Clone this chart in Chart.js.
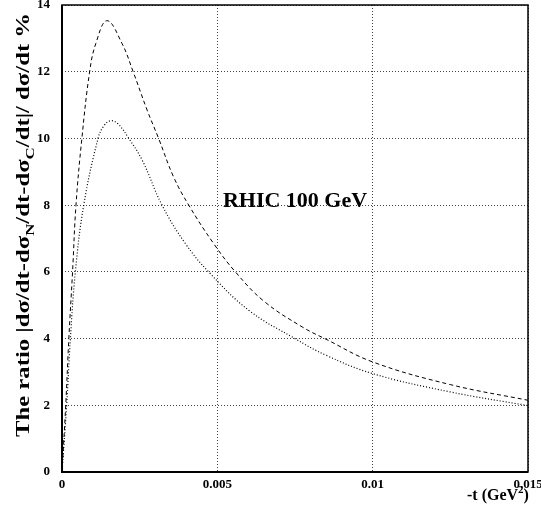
<!DOCTYPE html>
<html>
<head>
<meta charset="utf-8">
<script src="https://cdn.jsdelivr.net/npm/chart.js@4"></script>
<style>
    body { margin: 0; background: #fff; }
    canvas { display: block; }
</style>
</head>
<body>
<canvas id="chart" width="541" height="513"></canvas>
<script>
// -t values (GeV^2) and ratio values (%)
const tUpper = [0, 0.00012, 0.00022, 0.00034, 0.00045, 0.00064, 0.00089, 0.00109, 0.00145,
    0.00193, 0.00229, 0.00274, 0.00311, 0.00359, 0.00408, 0.00488, 0.00558, 0.0065, 0.00773,
    0.0085, 0.01, 0.0125, 0.015];
const ratioUpper = [0, 2.0, 4.0, 6.0, 8.0, 10.0, 12.0, 12.85, 13.53,
    12.85, 12.0, 10.85, 10.0, 8.85, 8.0, 6.85, 6.0, 5.12, 4.35,
    3.98, 3.3, 2.62, 2.15];

const tLower = [0, 0.00015, 0.00027, 0.00043, 0.0007, 0.00116, 0.00135, 0.00156, 0.0018, 0.00215,
    0.00258, 0.00322, 0.00397, 0.00472, 0.00601, 0.0075, 0.0085, 0.01, 0.0125, 0.015];
const ratioLower = [0, 2.0, 4.0, 6.0, 8.0, 10.0, 10.38, 10.53, 10.44, 10.0,
    9.35, 8.0, 6.85, 6.0, 4.85, 4.0, 3.5, 2.95, 2.4, 1.99];

const xTicks = [0, 0.005, 0.01, 0.015];
const xTickLabels = ["0", "0.005", "0.01", "0.015"];
const yTicks = [0, 2, 4, 6, 8, 10, 12, 14];

const annotationText = "RHIC 100 GeV";
const annotationPos = { x: 0.00518, y: 7.94 };

const SERIF = "'Liberation Serif', 'Times New Roman', serif";

function toPoints(xs, ys) {
    return xs.map((x, i) => ({ x: x, y: ys[i] }));
}

// y title with subscripts, x title with superscript, frame and label
const decorations = {
    id: "decorations",
    afterDraw(chart) {
        const { ctx, chartArea, scales } = chart;

        ctx.save();
        ctx.strokeStyle = "#000";
        ctx.lineWidth = 1.5;
        ctx.strokeRect(chartArea.left, chartArea.top,
            chartArea.right - chartArea.left, chartArea.bottom - chartArea.top);
        ctx.lineWidth = 2;
        ctx.beginPath();
        ctx.moveTo(chartArea.left, chartArea.top);
        ctx.lineTo(chartArea.left, chartArea.bottom);
        ctx.lineTo(chartArea.right, chartArea.bottom);
        ctx.stroke();
        ctx.restore();

        // annotation inside the plot
        ctx.save();
        ctx.fillStyle = "#000";
        ctx.font = "bold 22px " + SERIF;
        ctx.textBaseline = "alphabetic";
        ctx.fillText(annotationText,
            scales.x.getPixelForValue(annotationPos.x),
            scales.y.getPixelForValue(annotationPos.y));
        ctx.restore();

        // y axis title
        const parts = [
            { t: "The ratio |d\u03c3/dt-d\u03c3", sub: false },
            { t: "N", sub: true },
            { t: "/dt-d\u03c3", sub: false },
            { t: "C", sub: true },
            { t: "/dt|/ d\u03c3/dt %", sub: false }
        ];
        const mainFont = "bold 19px " + SERIF;
        const subFont = "bold 13px " + SERIF;
        ctx.save();
        let total = 0;
        parts.forEach(p => {
            ctx.font = p.sub ? subFont : mainFont;
            p.w = ctx.measureText(p.t).width;
            total += p.w;
        });
        const yStart = 437, yEnd = 13;
        const stretch = (yStart - yEnd) / total;
        ctx.translate(29, yStart);
        ctx.rotate(-Math.PI / 2);
        ctx.scale(stretch, 1);
        ctx.fillStyle = "#000";
        ctx.textBaseline = "alphabetic";
        let pos = 0;
        parts.forEach(p => {
            ctx.font = p.sub ? subFont : mainFont;
            ctx.fillText(p.t, pos, p.sub ? 5 : 0);
            pos += p.w;
        });
        ctx.restore();

        // x axis title
        ctx.save();
        ctx.fillStyle = "#000";
        ctx.textBaseline = "alphabetic";
        let x = 467;
        const base = 500;
        ctx.font = "bold 16px " + SERIF;
        ctx.fillText("-t (GeV", x, base);
        x += ctx.measureText("-t (GeV").width;
        ctx.font = "bold 11px " + SERIF;
        ctx.fillText("2", x, base - 7);
        x += ctx.measureText("2").width;
        ctx.font = "bold 16px " + SERIF;
        ctx.fillText(")", x, base);
        ctx.restore();
    }
};

const chart = new Chart(document.getElementById("chart"), {
    type: "line",
    data: {
        datasets: [
            {
                data: toPoints(tUpper, ratioUpper),
                borderColor: "#000",
                borderWidth: 1,
                borderDash: [4, 3],
                pointRadius: 0,
                tension: 0.4,
                fill: false
            },
            {
                data: toPoints(tLower, ratioLower),
                borderColor: "#000",
                borderWidth: 1.2,
                borderDash: [1, 2],
                pointRadius: 0,
                tension: 0.4,
                fill: false
            }
        ]
    },
    options: {
        responsive: false,
        animation: false,
        layout: { padding: { left: 0, right: 13, top: 5, bottom: 0 } },
        plugins: {
            legend: { display: false },
            tooltip: { enabled: false },
            title: { display: false }
        },
        scales: {
            x: {
                type: "linear",
                min: 0,
                max: 0.015,
                afterBuildTicks: scale => {
                    scale.ticks = xTicks.map(v => ({ value: v }));
                },
                afterFit: scale => {
                    scale.height = 41;
                    scale.paddingLeft = 0;
                    scale.paddingRight = 0;
                },
                ticks: {
                    padding: 5,
                    maxRotation: 0,
                    autoSkip: false,
                    color: "#000",
                    font: { family: SERIF, size: 13, weight: "bold" },
                    callback: (value, index) => xTickLabels[index]
                },
                grid: {
                    color: "#444",
                    lineWidth: 1,
                    drawTicks: false
                },
                border: { display: false, dash: [1, 2] }
            },
            y: {
                type: "linear",
                min: 0,
                max: 14,
                afterBuildTicks: scale => {
                    scale.ticks = yTicks.map(v => ({ value: v }));
                },
                afterFit: scale => {
                    scale.width = 62;
                    scale.paddingTop = 0;
                    scale.paddingBottom = 0;
                },
                ticks: {
                    padding: 12,
                    color: "#000",
                    font: { family: SERIF, size: 13, weight: "bold" }
                },
                grid: {
                    color: "#444",
                    lineWidth: 1,
                    drawTicks: false
                },
                border: { display: false, dash: [1, 2] }
            }
        }
    },
    plugins: [decorations]
});
</script>
</body>
</html>
